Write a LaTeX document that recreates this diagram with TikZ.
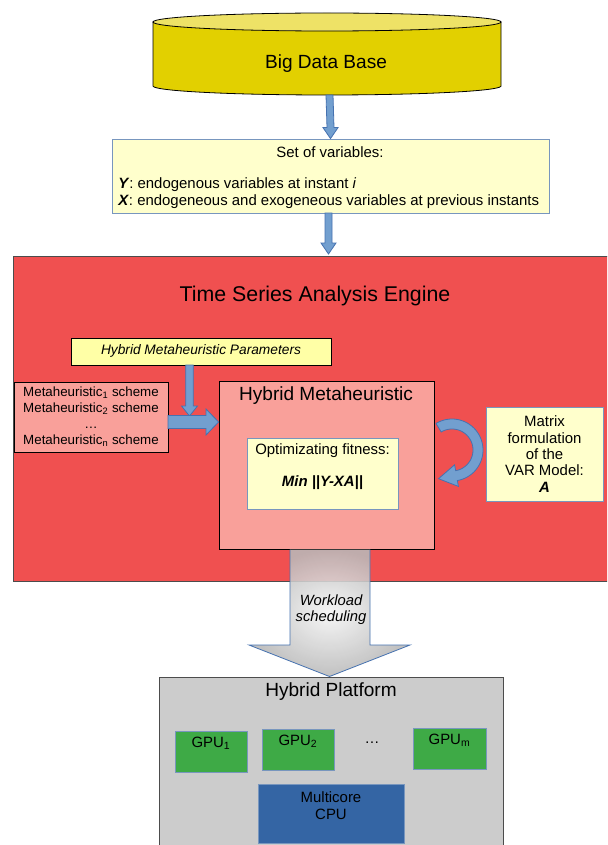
\documentclass[tikz,border=0pt]{standalone}
\usepackage{fontspec}
\setmainfont{Liberation Sans}
\usetikzlibrary{fit,shadings,calc}
\definecolor{dbyellow}{RGB}{226,208,0}
\definecolor{dbtop}{RGB}{238,226,102}
\definecolor{engred}{RGB}{240,80,80}
\definecolor{salmon}{RGB}{249,160,154}
\definecolor{paleyellow}{RGB}{255,255,204}
\definecolor{paramyellow}{RGB}{255,255,166}
\definecolor{arrowblue}{RGB}{114,159,207}
\definecolor{arrowedge}{RGB}{70,114,176}
\definecolor{boxedge}{RGB}{120,150,190}
\definecolor{gpugreen}{RGB}{62,170,70}
\definecolor{cpublue}{RGB}{52,101,164}
\definecolor{platgray}{RGB}{204,204,204}
\newcommand\fsz[1]{\fontsize{#1}{#1}\selectfont}
\begin{document}
\begin{tikzpicture}[x=0.75pt,y=-0.75pt,
  framebox/.style={inner sep=0pt, line width=0.6pt},
  enginebox/.style={framebox, draw=black!70, fill=engred},
  pinkbox/.style={framebox, draw=black, fill=salmon},
  yelbox/.style={framebox, draw=boxedge, fill=paleyellow},
  parbox/.style={framebox, draw=black, fill=paramyellow},
  gpubox/.style={framebox, draw=boxedge, fill=gpugreen},
  cpubox/.style={framebox, draw=boxedge, fill=cpublue},
  platbox/.style={framebox, draw=black!70, fill=platgray},
  blockarrow/.style={draw=arrowedge, fill=arrowblue, line width=0.6pt},
  txt/.style={inner sep=0pt, font=\fsz{11.2}},
  bigtxt/.style={inner sep=0pt, font=\fsz{14.3}},
]
\useasboundingbox (0,0) rectangle (607,845);
\clip (0,0) rectangle (607,845);
\fill[white] (0,0) rectangle (607,845);

% ---- database cylinder
\fill[dbyellow, draw=black, line width=0.6pt] (153,22) -- (153,86)
  -- plot[domain=180:360,samples=50] ({327+174*cos(\x)},{86-9*sin(\x)})
  -- (501,22) -- cycle;
\draw[fill=dbtop, line width=0.6pt] (327,22) ellipse [x radius=174, y radius=9];
\node[bigtxt] (db) at (326,64) {Big Data Base};
\coordinate (dbbot) at (329.5,95);

% ---- set of variables
\node[yelbox, fit={(112,139) (549,213)}] (vars) {};
\node[txt] (varstitle) at (330,152) {Set of variables:};
\node[txt, anchor=west] (yline) at (118,185) {\textbf{\textit{Y}}: endogenous variables at instant \textit{i}};
\node[txt, anchor=west] (xline) at (118,202) {\textbf{\textit{X}}: endogeneous and exogeneous variables at previous instants};

% arrow db -> vars
\draw[blockarrow] ($(dbbot)+(-3.5,0)$) -- ($(dbbot)+(3.5,0)$) -- ($(vars.north)+(3.5,-11)$)
  -- ($(vars.north)+(7.5,-11)$) -- (vars.north) -- ($(vars.north)+(-7.5,-11)$)
  -- ($(vars.north)+(-3.5,-11)$) -- cycle;

% ---- engine
\node[enginebox, fit={(13,256) (615,581)}] (engine) {};
\node[inner sep=0pt, font=\fsz{16}] (enginetitle) at (315,296) {Time Series Analysis Engine};

% arrow vars -> engine
\coordinate (vbot) at (328.5,213);
\draw[blockarrow] ($(vbot)+(-3.5,0)$) -- ($(vbot)+(3.5,0)$) -- ($(vbot)+(3.5,30)$)
  -- ($(vbot)+(7.5,30)$) -- ($(vbot)+(0,41)$) -- ($(vbot)+(-7.5,30)$)
  -- ($(vbot)+(-3.5,30)$) -- cycle;

% ---- parameters
\node[parbox, fit={(71,338) (331,365)}] (params) {};
\node[txt, font=\fsz{10.3}\itshape] (paramtxt) at (201,351) {Hybrid Metaheuristic Parameters};

% ---- schemes
\node[pinkbox, fit={(14,382) (168,452)}] (schemes) {};
\node[inner sep=0pt, font=\fontsize{10}{12}\selectfont, align=center] (schemetxt) at (91,416.5)
  {Metaheuristic\textsubscript{1} scheme\\Metaheuristic\textsubscript{2} scheme\\\dots\\Metaheuristic\textsubscript{n} scheme};

% ---- hybrid metaheuristic
\node[pinkbox, fit={(219,381) (434,549)}] (hm) {};
\node[bigtxt] (hmtitle) at (326,396) {Hybrid Metaheuristic};

% arrow params -> down
\coordinate (ptop) at (189.5,365);
\draw[blockarrow] ($(ptop)+(-3.8,0)$) -- ($(ptop)+(3.8,0)$) -- ($(ptop)+(3.8,41)$)
  -- ($(ptop)+(8,41)$) -- ($(ptop)+(0,51)$) -- ($(ptop)+(-8,41)$)
  -- ($(ptop)+(-3.8,41)$) -- cycle;
% arrow schemes -> hm
\coordinate (sR) at (168,422);
\draw[blockarrow] ($(sR)+(0,-6.5)$) -- ($(sR)+(38,-6.5)$) -- ($(sR)+(38,-13)$)
  -- ($(hm.west |- sR)$) -- ($(sR)+(38,13)$) -- ($(sR)+(38,6.5)$)
  -- ($(sR)+(0,6.5)$) -- cycle;

% ---- fitness
\node[yelbox, fit={(247,438) (398,509)}] (fit) {};
\node[txt] (fittitle) at (322.5,451) {Optimizating fitness:};
\node[txt] (fitmin) at (322.5,483) {\textbf{\textit{Min ||Y-XA||}}};

% ---- circular arrow
\draw[blockarrow] plot[domain=121:-80,samples=60] ({452+31*cos(\x)},{450-31*sin(\x)})
  -- (458.4,486.4) -- (438.5,478.7) -- (454.6,464.8)
  -- plot[domain=-80:121,samples=60] ({452+21*cos(\x)},{450-21*sin(\x)}) -- cycle;

% ---- matrix formulation
\node[yelbox, fit={(486,407) (603,501)}] (matrix) {};
\node[inner sep=0pt, font=\fontsize{11.2}{12.3}\selectfont, align=center] (matrixtxt) at (544.5,454)
  {Matrix\\formulation\\of the\\VAR Model:\\\textbf{\textit{A}}};

% ---- platform
\node[platbox, fit={(159,677) (503,860)}] (plat) {};
\node[bigtxt] (plattitle) at (331,692) {Hybrid Platform};

% ---- workload arrow
\path[shading=radial, inner color=white!92!gray, outer color=gray!55, fill opacity=0.88]
  (290,549.5) -- (370,549.5) -- (370,645) -- (410,645) -- (329.5,676.5) -- (249,645) -- (290,645) -- cycle;
\draw[draw=arrowedge, line width=0.6pt]
  (290,549.5) -- (290,645) -- (249,645) -- (329.5,676.5) -- (410,645) -- (370,645) -- (370,549.5);
\node[inner sep=0pt, font=\fontsize{11.1}{12}\itshape\selectfont, align=center] (wl) at (331,610)
  {Workload\\scheduling};

% ---- GPUs and CPU
\node[gpubox, fit={(175,731) (247,772)}] (gpu1) {};
\node[txt] at (211,743) {GPU\textsubscript{1}};
\node[gpubox, fit={(262,729) (334,770)}] (gpu2) {};
\node[txt] at (298,741) {GPU\textsubscript{2}};
\node[txt] (dots) at (372,743) {\dots};
\node[gpubox, fit={(413,728) (486,769)}] (gpum) {};
\node[txt] at (449.5,740) {GPU\textsubscript{m}};
\node[cpubox, fit={(258,784) (404,843)}] (cpu) {};
\node[inner sep=0pt, font=\fontsize{11.2}{12.6}\selectfont, align=center] (cputxt) at (331,805.5) {Multicore\\CPU};
\end{tikzpicture}
\end{document}
